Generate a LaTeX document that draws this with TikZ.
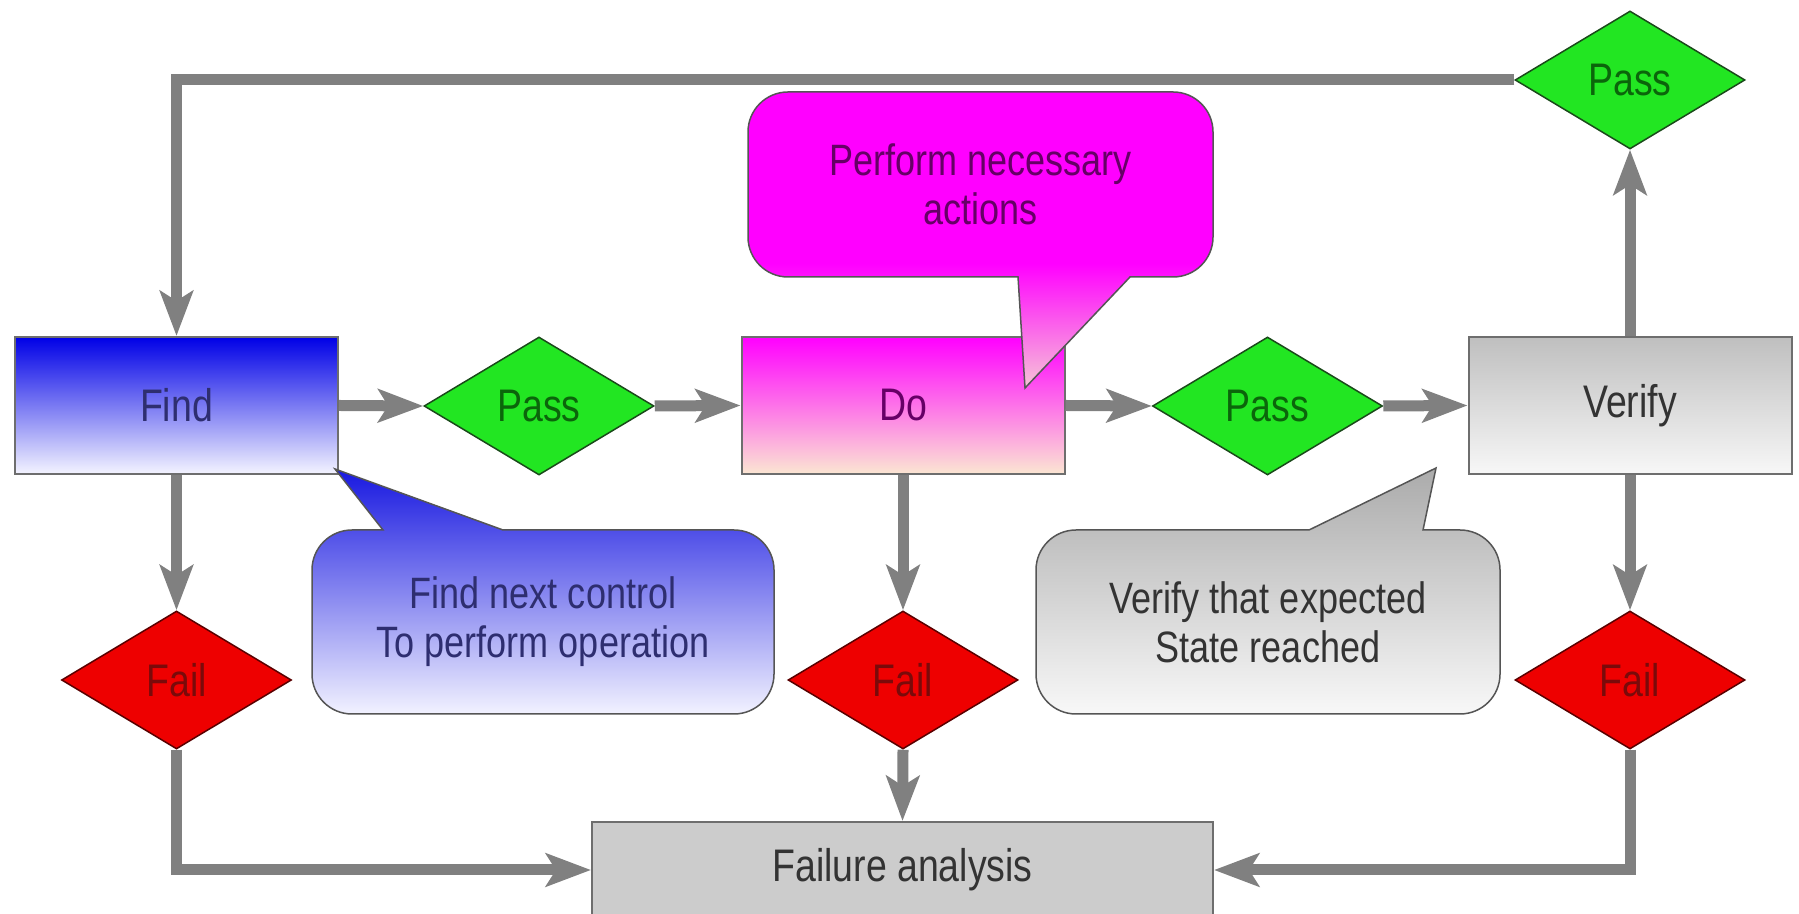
\documentclass[tikz,border=0pt]{standalone}
\usepackage{fontspec}
\setmainfont{Liberation Sans}[FakeStretch=0.82]
\usetikzlibrary{positioning,shapes.geometric,arrows.meta}
\definecolor{arrowgray}{HTML}{808080}
\definecolor{boxedge}{HTML}{6E6E6E}
\definecolor{passgreen}{HTML}{22E622}
\definecolor{passedge}{HTML}{1A4A1A}
\definecolor{passtext}{HTML}{0B650B}
\definecolor{failred}{HTML}{EE0000}
\definecolor{failedge}{HTML}{5A0000}
\definecolor{failtext}{HTML}{7A0A0A}
\definecolor{findtop}{HTML}{0000E6}
\definecolor{findbot}{HTML}{F4F4FF}
\definecolor{findtext}{HTML}{2E2E70}
\definecolor{docream}{HTML}{FBE6D2}
\definecolor{dotext}{HTML}{660066}
\definecolor{verifytop}{HTML}{BFBFBF}
\definecolor{verifybot}{HTML}{F7F7F7}
\definecolor{graytext}{HTML}{333333}
\definecolor{fagray}{HTML}{CCCCCC}
\definecolor{noteblueA}{HTML}{1818E0}
\definecolor{noteblueB}{HTML}{F2F2FF}
\definecolor{notepink}{HTML}{F6C6D6}
\definecolor{notegrayA}{HTML}{ABABAB}
\definecolor{notegrayB}{HTML}{F8F8F8}
\definecolor{noteedge}{HTML}{555555}
% magenta note: plain body, only the pointer fades
\pgfdeclareverticalshading{magnote}{100bp}{color(0bp)=(notepink); color(25bp)=(notepink); color(46bp)=(magenta); color(75bp)=(magenta); color(100bp)=(magenta)}

\begin{document}
\begin{tikzpicture}
    \tikzset{
        flow/.style={draw=arrowgray, line width=0.22cm, -{Stealth[length=0.9cm,width=0.66cm,inset=0.2cm]}},
        box/.style={rectangle, draw=boxedge, line width=0.04cm, minimum width=6.46cm, minimum height=2.74cm, inner sep=0pt, font=\fontsize{26}{31}\selectfont},
        pass/.style={diamond, draw=passedge, line width=0.03cm, fill=passgreen, text=passtext, minimum width=4.6cm, minimum height=2.76cm, inner sep=0pt, font=\fontsize{26}{31}\selectfont},
        fail/.style={pass, draw=failedge, fill=failred, text=failtext},
        note/.style={draw=noteedge, line width=0.03cm},
        notetext/.style={align=center, font=\fontsize{25}{28}\selectfont},
    }
    \useasboundingbox (0,0) rectangle (35.98,18.28);

    % main row
    \node[box, top color=findtop, bottom color=findbot, text=findtext] (find) at (3.53,10.17) {Find};
    \node[pass] (pass1) at (10.78,10.16) {Pass};
    \node[box, top color=magenta, middle color=magenta, bottom color=docream, text=dotext] (do) at (18.06,10.17) {Do};
    \node[pass] (pass2) at (25.35,10.16) {Pass};
    \node[box, top color=verifytop, bottom color=verifybot, text=graytext] (verify) at (32.6,10.17) {Verify};
    \node[pass] (pass3) at (32.6,16.68) {Pass};

    \node[fail] (fail1) at (3.53,4.68) {Fail};
    \node[fail] (fail2) at (18.06,4.68) {Fail};
    \node[fail] (fail3) at (32.6,4.68) {Fail};
    \node[box, fill=fagray, text=graytext, minimum width=12.42cm, minimum height=1.92cm] (fa) at (18.05,0.88) {Failure analysis};

    \draw[flow] (pass3.west) -| (find.north);
    \draw[flow] (find.east) -- (pass1.west);
    \draw[flow] (pass1.east) -- (do.west);
    \draw[flow] (do.east) -- (pass2.west);
    \draw[flow] (pass2.east) -- (verify.west);
    \draw[flow] (verify.north) -- (pass3.south);
    \draw[flow] (find.south) -- (fail1.north);
    \draw[flow] (do.south) -- (fail2.north);
    \draw[flow] (verify.south) -- (fail3.north);
    \draw[flow] (fail1.south) |- (fa.west);
    \draw[flow] (fail2.south) -- (fa.north);
    \draw[flow] (fail3.south) |- (fa.east);

    % callouts
    \path[note, top color=noteblueA, bottom color=noteblueB]
        (10.06,7.68) -- (14.68,7.68) arc[start angle=90,end angle=0,radius=0.8]
        -- (15.48,4.8) arc[start angle=0,end angle=-90,radius=0.8]
        -- (7.04,4.0) arc[start angle=270,end angle=180,radius=0.8]
        -- (6.24,6.88) arc[start angle=180,end angle=90,radius=0.8]
        -- (7.66,7.68) -- (6.70,8.90) -- cycle;
    \node[notetext, text=findtext] (findnote) at (10.86,5.84) {Find next control\\To perform operation};

    \path[note, shading=magnote]
        (20.36,12.74) -- (20.5,10.52) -- (22.6,12.74)
        -- (23.46,12.74) arc[start angle=-90,end angle=0,radius=0.8]
        -- (24.26,15.64) arc[start angle=0,end angle=90,radius=0.8]
        -- (15.76,16.44) arc[start angle=90,end angle=180,radius=0.8]
        -- (14.96,13.54) arc[start angle=180,end angle=270,radius=0.8] -- cycle;
    \node[notetext, text=dotext] (donote) at (19.61,14.59) {Perform necessary\\actions};

    \path[note, top color=notegrayA, bottom color=notegrayB]
        (28.46,7.68) -- (29.2,7.68) arc[start angle=90,end angle=0,radius=0.8]
        -- (30.0,4.8) arc[start angle=0,end angle=-90,radius=0.8]
        -- (21.52,4.0) arc[start angle=270,end angle=180,radius=0.8]
        -- (20.72,6.88) arc[start angle=180,end angle=90,radius=0.8]
        -- (26.18,7.68) -- (28.72,8.92) -- cycle;
    \node[notetext, text=graytext] (verifynote) at (25.36,5.84) {Verify that expected\\State reached};
\end{tikzpicture}
\end{document}
